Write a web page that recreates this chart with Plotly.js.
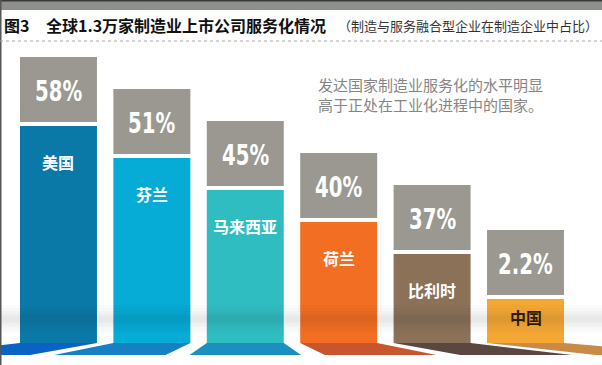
<!DOCTYPE html>
<html>
<head>
<meta charset="utf-8">
<script src="https://cdn.plot.ly/plotly-3.0.1.min.js"></script>
<style>
html,body{margin:0;padding:0;background:#fff;}
#chart{width:602px;height:365px;}
/* condensed look for the percentage figures */
text.annotation-text[style*="DejaVu Sans"]{transform-box:fill-box;transform-origin:center;transform:scaleX(0.68);}
</style>
</head>
<body>
<div id="chart"></div>
<script>
// ---- data ----
const countries = ['美国', '芬兰', '马来西亚', '荷兰', '比利时', '中国'];
const shares = [58, 51, 45, 40, 37, 2.2];               // % of manufacturing firms that are service-integrated
const shareLabels = ['58%', '51%', '45%', '40%', '37%', '2.2%'];
const barLevels = [217, 185, 153, 121, 89, 44];          // drawn (decorative) heights of the coloured bars
const barColors = ['#0b79a8', '#06abd6', '#2fbdc2', '#f26e22', '#8b7158', '#f4a733'];
const floorColors = ['#0a63c4', '#1580c2', '#1b8fbf', '#c9552e', '#5b4640', '#c98a45'];
const labelColors = ['#ffffff', '#ffffff', '#ffffff', '#ffffff', '#ffffff', '#2a1a08'];

const titleMain = '全球1.3万家制造业上市公司服务化情况';
const titleSub = '（制造与服务融合型企业在制造企业中占比）';
const note = '发达国家制造业服务化的水平明显<br>高于正处在工业化进程中的国家。';

// ---- styling constants ----
const W = 0.824;      // bar width (category units)
const GAP = 4;        // gap between coloured bar and grey box
const BOX = 65;       // grey box height
const FLOOR = 12;     // depth of floor shadow
const VP = 2.0, SPREAD = 1.45;  // perspective of floor shadows

const cjk = '"Noto Sans CJK SC", "Noto Sans", sans-serif';
const digits = '"DejaVu Sans", sans-serif';

const idx = countries.map((c, i) => i);

const traces = [
  {
    type: 'bar', x: countries, y: barLevels, width: W,
    marker: {color: barColors, line: {width: 0}},
    hoverinfo: 'skip', showlegend: false
  },
  {
    type: 'bar', x: countries, y: countries.map(() => BOX),
    base: barLevels.map(h => h + GAP), width: W,
    marker: {color: '#9a9891', line: {width: 0}},
    hoverinfo: 'skip', showlegend: false
  }
];

const shapes = [];
// floor shadows (perspective projection of each bar foot)
idx.forEach(i => {
  const x0 = i - W / 2, x1 = i + W / 2;
  const b0 = VP + (x0 - VP) * SPREAD, b1 = VP + (x1 - VP) * SPREAD;
  shapes.push({
    type: 'path', xref: 'x', yref: 'y', layer: 'below',
    path: `M ${x0} 0 L ${x1} 0 L ${b1} ${-FLOOR} L ${b0} ${-FLOOR} Z`,
    fillcolor: floorColors[i], line: {width: 0}
  });
});
// soft horizon shading band
[[10, 38, 0.018], [13, 35, 0.018], [16, 32, 0.022], [19, 29, 0.025], [21, 27, 0.025]].forEach(b => {
  shapes.push({type: 'rect', xref: 'paper', yref: 'y', x0: 0, x1: 1, y0: b[0], y1: b[1],
    fillcolor: 'rgba(40,40,50,' + b[2] + ')', line: {width: 0}, layer: 'above'});
});
// top banner, left border, dotted separator
shapes.push({type: 'rect', xref: 'paper', yref: 'paper', x0: 0, x1: 1, y0: 1 - 10 / 365, y1: 1,
  fillcolor: '#8e908c', line: {width: 0}});
shapes.push({type: 'rect', xref: 'paper', yref: 'paper', x0: 0, x1: 1, y0: 1 - 1.5 / 365, y1: 1,
  fillcolor: '#3a3a3a', line: {width: 0}});
shapes.push({type: 'rect', xref: 'paper', yref: 'paper', x0: 0, x1: 1.5 / 602, y0: 0, y1: 1,
  fillcolor: '#555555', line: {width: 0}});
shapes.push({type: 'line', xref: 'paper', yref: 'paper', x0: 0, x1: 1, y0: 1 - 41 / 365, y1: 1 - 41 / 365,
  line: {color: '#a8a8a8', width: 1, dash: 'dot'}});

const annotations = [];
idx.forEach(i => {
  // percentage in grey box
  annotations.push({
    x: countries[i], y: barLevels[i] + GAP + BOX / 2 - 1, xref: 'x', yref: 'y',
    text: shareLabels[i], showarrow: false, xanchor: 'center', yanchor: 'middle',
    font: {family: digits, size: 29, color: '#ffffff', weight: 700}
  });
  // country name in coloured bar
  const h = barLevels[i];
  annotations.push({
    x: countries[i], y: h > 80 ? h - 36 : h * 0.6, xref: 'x', yref: 'y',
    text: countries[i], showarrow: false, xanchor: 'center', yanchor: 'middle',
    font: {family: cjk, size: 16, color: labelColors[i], weight: 700}
  });
});
// titles and note
annotations.push({xref: 'paper', yref: 'paper', x: 2 / 602, y: 1 - 25 / 365, xanchor: 'left', yanchor: 'middle',
  text: '图3', showarrow: false, font: {family: cjk, size: 16, color: '#111111', weight: 700}});
annotations.push({xref: 'paper', yref: 'paper', x: 44 / 602, y: 1 - 25 / 365, xanchor: 'left', yanchor: 'middle',
  text: titleMain, showarrow: false, font: {family: cjk, size: 16, color: '#111111', weight: 700}});
annotations.push({xref: 'paper', yref: 'paper', x: 336 / 602, y: 1 - 25 / 365, xanchor: 'left', yanchor: 'middle',
  text: titleSub, showarrow: false, font: {family: cjk, size: 13, color: '#333333'}});
annotations.push({xref: 'paper', yref: 'paper', x: 316 / 602, y: 1 - 95 / 365, xanchor: 'left', yanchor: 'middle',
  align: 'left', text: note, showarrow: false, font: {family: cjk, size: 15, color: '#858585'}});

const layout = {
  width: 602, height: 365,
  margin: {l: 0, r: 0, t: 0, b: 0},
  paper_bgcolor: '#ffffff', plot_bgcolor: 'rgba(0,0,0,0)',
  barmode: 'overlay', showlegend: false,
  xaxis: {type: 'category', range: [-0.626, 5.819], visible: false, fixedrange: true},
  yaxis: {range: [-22, 343], visible: false, fixedrange: true},
  shapes: shapes, annotations: annotations
};

Plotly.newPlot('chart', traces, layout, {staticPlot: true, displayModeBar: false});
</script>
</body>
</html>
